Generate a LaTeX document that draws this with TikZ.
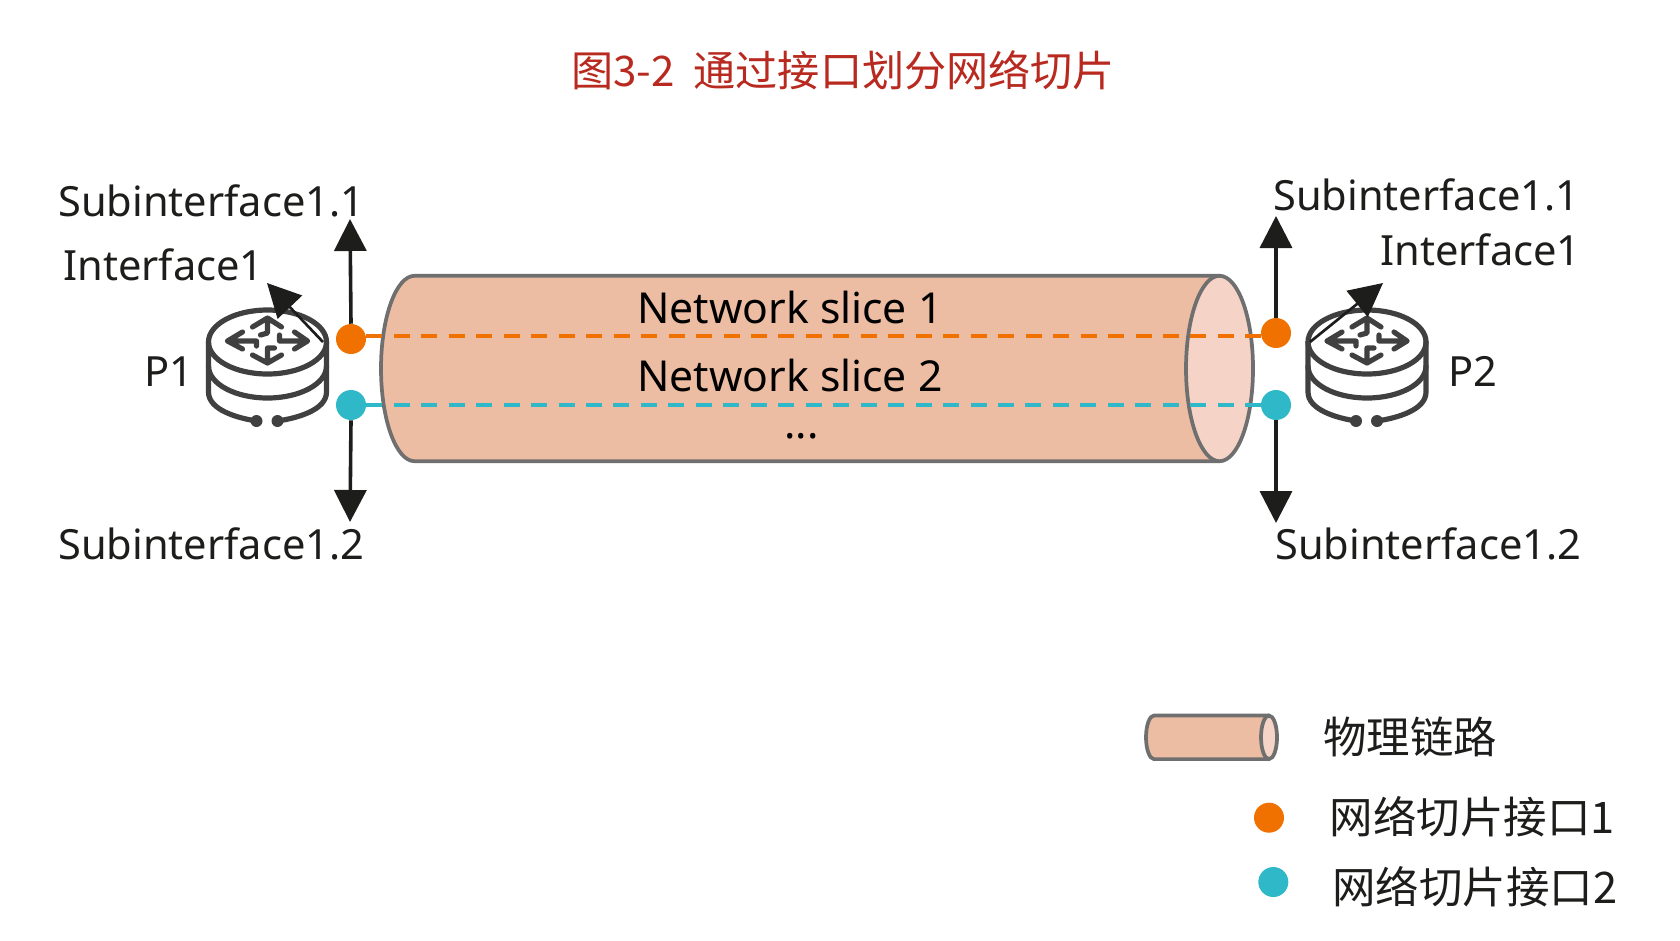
\documentclass[tikz,border=0pt]{standalone}
\usepackage{fontspec}
\setmainfont{Noto Sans}
\newfontfamily\cjkfont{Noto Sans CJK SC}
\usetikzlibrary{arrows.meta}
\definecolor{slicered}{HTML}{B82A20}
\definecolor{sliceorange}{HTML}{F07000}
\definecolor{slicecyan}{HTML}{2EB8C8}
\definecolor{linkfill}{HTML}{EDBDA3}
\definecolor{linkend}{HTML}{F5D3C6}
\definecolor{linkdraw}{HTML}{6F6F6F}
\definecolor{iconcol}{HTML}{404040}
\definecolor{inkcol}{HTML}{1D1D1B}
\tikzstyle{lbl} = [inner sep=0pt,anchor=base west,text=inkcol,font=\fontsize{31.2}{33}\selectfont]
\tikzstyle{slicelbl} = [inner sep=0pt,anchor=base west,text=black,font=\fontsize{32}{34}\selectfont]
\tikzstyle{cjk} = [inner sep=0pt,anchor=west,text=inkcol,font=\cjkfont\fontsize{32.6}{34}\selectfont]
\tikzstyle{port} = [circle,inner sep=0pt,minimum size=22.5pt]
\tikzstyle{sub} = [line width=2.7pt,draw=inkcol,-{Triangle[length=24pt,width=24pt]}]
\tikzstyle{ifc} = [line width=2pt,draw=inkcol,-{Triangle[length=25pt,width=25pt]}]
\tikzstyle{slice} = [line width=3pt,dash pattern=on 12pt off 8.6pt]
\tikzset{
	% length, half height and end radius, from the centre of the open end
	pics/linkpipe/.style n args={3}{code={
		\draw[linkdraw,fill=linkfill,line width=2.8pt] (0,-#2) -- ({-#1+#3},-#2)
			.. controls ({-#1+0.45*#3},-#2) and (-#1,{-0.55*#2}) .. (-#1,0)
			.. controls (-#1,{0.55*#2}) and ({-#1+0.45*#3},#2) .. ({-#1+#3},#2) -- (0,#2);
		\draw[linkdraw,fill=linkend,line width=2.8pt] (0,0) ellipse [x radius=#3,y radius=#2];
	}},
	router/.pic={
		\begin{scope}[draw=iconcol,line width=3.9pt,line cap=round,line join=round]
			\draw (0,0) ellipse [x radius=59,y radius=32];
			\draw (-59,24) .. controls (-59,42) and (-32,56) .. (0,56) .. controls (32,56) and (59,42) .. (59,24);
			\draw (-59,0) -- (-59,50) .. controls (-59,68) and (-30,76) .. (-11,79);
			\draw (59,0) -- (59,50) .. controls (59,68) and (30,76) .. (10,79);
			\fill[iconcol] (-11,79) circle [radius=6];
			\fill[iconcol] (10,79) circle [radius=6];
			% four arrows of the icon
			\draw (-25,-10) -- (-40,-1) -- (-25,7) (-40,-1) -- (-11,-1) -- (-11,4);
			\draw (27,-10) -- (40,-1) -- (27,7) (40,-1) -- (12,-1) -- (12,-7);
			\draw (-15,-15) -- (0,-24) -- (14,-15) (0,-24) -- (0,-9) -- (-7,-7);
			\draw (-15,13) -- (0,21) -- (14,13) (0,21) -- (0,6) -- (7,6);
		\end{scope}
	}
}
\begin{document}
\begin{tikzpicture}[x=0.75pt,y=-0.75pt]
	\useasboundingbox (0,0) rectangle (1680,940);
	\node (title) [inner sep=0pt,anchor=west,text=slicered,font=\cjkfont\fontsize{31.6}{33}\selectfont] at (571,70) {图3-2\ \ 通过接口划分网络切片};

	% physical link
	\pic (pipe) at (1219.5,368.5) {linkpipe={838.5}{92.7}{33.5}};

	% ports
	\node (orangeA) [port,fill=sliceorange] at (351,339) {};
	\node (cyanA) [port,fill=slicecyan] at (351,405) {};
	\node (orangeB) [port,fill=sliceorange] at (1276,333) {};
	\node (cyanB) [port,fill=slicecyan] at (1276,405) {};
	\coordinate (orangeAe) at (351,336);
	\coordinate (orangeBe) at (1276,336);

	\draw[slice,sliceorange,dash phase=9pt] (orangeAe) -- (orangeBe);
	\draw[slice,slicecyan] (cyanA) -- (cyanB);

	\pic (routerA) at (267.5,342) {router};
	\pic (routerB) at (1367,342) {router};

	\coordinate (upA) at (350,219);
	\coordinate (downA) at (350,522);
	\coordinate (upB) at (1276,216);
	\coordinate (downB) at (1276,523);
	\draw[sub] (orangeA.north) -- (upA);
	\draw[sub] (cyanA.south) -- (downA);
	\draw[sub] (orangeB.north) -- (upB);
	\draw[sub] (cyanB.south) -- (downB);

	\coordinate (ifcAs) at (323,342);
	\coordinate (ifcAe) at (267,283);
	\coordinate (ifcBs) at (1310,342);
	\coordinate (ifcBe) at (1383,283);
	\draw[ifc] (ifcAs) -- (ifcAe);
	\draw[ifc] (ifcBs) -- (ifcBe);

	% labels
	\node (subAa) [lbl] at (58,216) {Subinterface1.1};
	\node (ifA) [lbl] at (63,280) {Interface1};
	\node (pa) [lbl] at (144,386) {P1};
	\node (subAb) [lbl] at (58,559) {Subinterface1.2};
	\node (subBa) [lbl] at (1273,210) {Subinterface1.1};
	\node (ifB) [lbl] at (1380,265) {Interface1};
	\node (pb) [lbl] at (1448,386) {P2};
	\node (subBb) [lbl] at (1275,559) {Subinterface1.2};
	\node (sliceA) [slicelbl] at (637,323) {Network slice 1};
	\node (sliceB) [slicelbl] at (637,391) {Network slice 2};
	\node (more) [slicelbl] at (784,438) {...};

	% legend
	\pic (legpipe) at (1269,737.3) {linkpipe={123}{21.8}{8}};
	\node (legtxt) [cjk] at (1323,737) {物理链路};
	\node (legorange) [port,fill=sliceorange] at (1269,817.7) {};
	\node (legcyan) [port,fill=slicecyan] at (1273.3,882) {};
	\node (legA) [cjk] at (1329.5,816.6) {网络切片接口1};
	\node (legB) [cjk] at (1332,886.6) {网络切片接口2};
\end{tikzpicture}
\end{document}
